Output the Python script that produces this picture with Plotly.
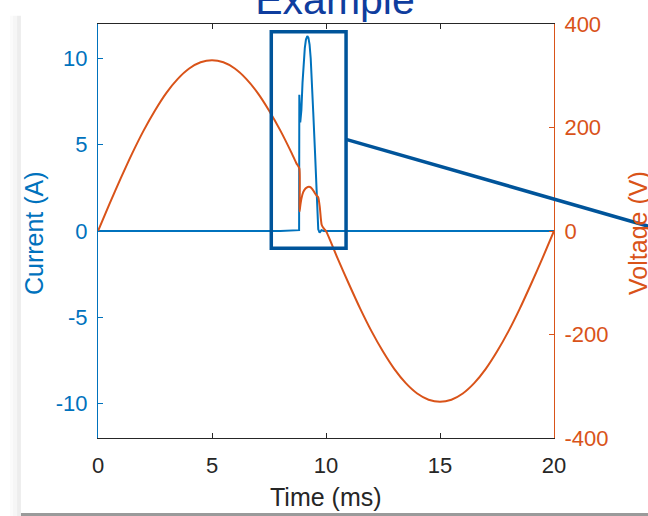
import plotly.graph_objects as go

# --- measured waveforms -------------------------------------------------
# Current (A) sampled around the arc event; flat elsewhere
time_i = [0, 1, 2, 3, 4, 5, 6, 7, 8, 8.82, 8.83, 8.87, 8.92, 8.97, 9.02, 9.07,
          9.12, 9.18, 9.23, 9.28, 9.33, 9.38, 9.44, 9.52, 9.59, 9.66, 9.72,
          9.80, 9.90, 10, 11, 12, 13, 14, 15, 16, 17, 18, 19, 20]
current = [0, 0, 0, 0, 0, 0, 0, 0, 0, 0.05, 7.9, 6.3, 7.0, 8.6, 9.8, 10.6,
           11.1, 11.3, 11.2, 10.8, 10.0, 8.8, 6.9, 4.5, 2.2, 0.1, -0.1,
           0.05, 0, 0, 0, 0, 0, 0, 0, 0, 0, 0, 0, 0]

# Mains voltage (V); dips while the arc conducts
time_v = [0, 0.5, 1, 1.5, 2, 2.5, 3, 3.5, 4, 4.5, 5, 5.5, 6, 6.5, 7, 7.5, 8,
          8.5, 8.7, 8.83, 8.84, 8.87, 8.92, 9.0, 9.1, 9.2, 9.3, 9.4, 9.5, 9.6,
          9.66, 9.73, 9.81, 9.9, 10, 10.5, 11, 11.5, 12, 12.5, 13, 13.5, 14,
          14.5, 15, 15.5, 16, 16.5, 17, 17.5, 18, 18.5, 19, 19.5, 20]
voltage = [0, 52, 102, 150, 194, 233, 267, 294, 314, 326, 330, 326, 314, 294,
           267, 233, 194, 150, 131, 121, 38, 48, 62, 75, 82, 85, 85, 81, 74,
           68, 65, 45, 12, 5, 0, -52, -102, -150, -194, -233, -267, -294, -314,
           -326, -330, -326, -314, -294, -267, -233, -194, -150, -102, -52, 0]

# Axis ticks
x_ticks = [0, 5, 10, 15, 20]
i_ticks = [-10, -5, 0, 5, 10]
i_labels = ["-10", "-5", "0", "5", "10"]
v_ticks = [-400, -200, 0, 200, 400]
v_labels = ["-400", "-200", "0", "200", "400"]

# Highlighted arc window (time in ms, current in A)
window_t = [7.6, 10.88]
window_i = [-1.0, 11.55]

BLUE = "#0072BD"
ORANGE = "#D95319"
DARK = "#262626"
BOX = "#00549A"
FONT = "Liberation Sans, Arial, sans-serif"

fig = go.Figure()
fig.add_trace(go.Scatter(x=time_i, y=current, mode="lines", name="Current",
                         line=dict(color=BLUE, width=2), yaxis="y"))
fig.add_trace(go.Scatter(x=time_v, y=voltage, mode="lines", name="Voltage",
                         line=dict(color=ORANGE, width=2, shape="spline",
                                   smoothing=0.6),
                         yaxis="y2"))

axis_common = dict(showgrid=False, zeroline=False, showline=True, linewidth=1,
                   ticks="inside", ticklen=5, tickwidth=1)

fig.update_layout(
    width=648, height=516,
    margin=dict(l=98, r=94, t=18, b=78),
    paper_bgcolor="white", plot_bgcolor="white",
    showlegend=False,
    font=dict(family=FONT),
    title=dict(text="Example", x=0.517, xref="container", xanchor="center",
               y=1.0, yref="container", yanchor="middle",
               font=dict(size=41, color="#0f3d9e", family=FONT)),
    xaxis=dict(range=[0, 20], tickvals=x_ticks, mirror="ticks",
               linecolor=DARK, tickcolor=DARK, ticklabelstandoff=8,
               tickfont=dict(size=22, color=DARK), **axis_common),
    yaxis=dict(range=[-12, 12], tickvals=i_ticks, ticktext=i_labels,
               linecolor=BLUE, tickcolor=BLUE, ticklabelstandoff=5,
               tickfont=dict(size=22, color=BLUE), **axis_common),
    yaxis2=dict(range=[-400, 400], tickvals=v_ticks, ticktext=v_labels,
                overlaying="y", side="right",
                linecolor=ORANGE, tickcolor=ORANGE, ticklabelstandoff=5,
                tickfont=dict(size=22, color=ORANGE), **axis_common),
)

# Axis labels
fig.add_annotation(text="Time (ms)", x=0.5, y=-0.143, xref="paper", yref="paper",
                   showarrow=False, xanchor="center", yanchor="middle",
                   font=dict(size=25, color=DARK))
fig.add_annotation(text="Current (A)", x=-0.1404, y=0.495, xref="paper", yref="paper",
                   showarrow=False, textangle=-90, xanchor="center", yanchor="middle",
                   font=dict(size=25, color=BLUE))
fig.add_annotation(text="Voltage (V)", x=1.184, y=0.495, xref="paper", yref="paper",
                   showarrow=False, textangle=-90, xanchor="center", yanchor="middle",
                   font=dict(size=25, color=ORANGE))

# Box around the arc and a leader line towards the detail view
fig.add_shape(type="rect", xref="x", yref="y",
              x0=window_t[0], x1=window_t[1], y0=window_i[0], y1=window_i[1],
              line=dict(color=BOX, width=3.5), fillcolor="rgba(0,0,0,0)")
fig.add_shape(type="line", xref="paper", yref="paper",
              x0=window_t[1] / 20, y0=0.7214, x1=1.2105, y1=0.5105,
              line=dict(color=BOX, width=3.5))

# Slide frame: soft shadow on the left and grey rule at the bottom
for x0, x1, alpha in [(-0.1930, -0.1864, 0.015), (-0.1864, -0.1776, 0.035),
                      (-0.1776, -0.1689, 0.07)]:
    fig.add_shape(type="rect", xref="paper", yref="paper", x0=x0, x1=x1,
                  y0=-0.19, y1=1.02, line=dict(width=0),
                  fillcolor=f"rgba(0,0,0,{alpha})", layer="below")
fig.add_shape(type="rect", xref="paper", yref="paper", x0=-0.1689, x1=1.22,
              y0=-0.19, y1=-0.1809, line=dict(width=0),
              fillcolor="#9a9a9a", layer="below")

fig.write_html("out.html")
